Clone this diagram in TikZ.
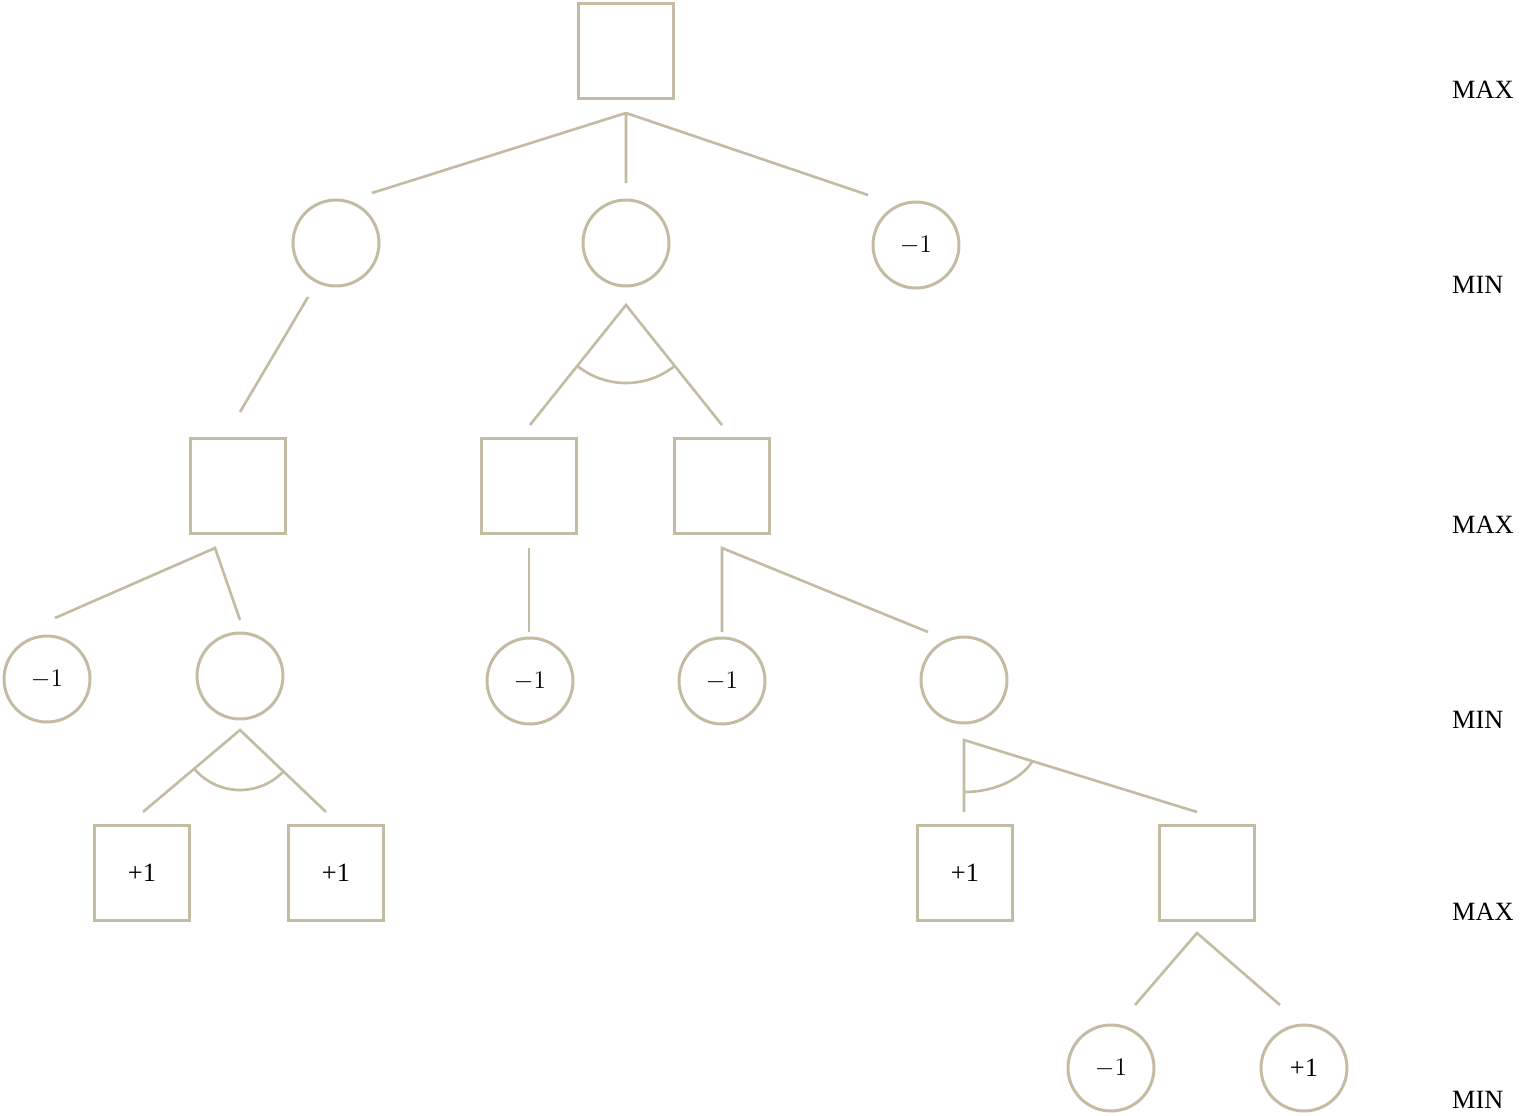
\documentclass[tikz,border=0pt]{standalone}
\usepackage{fontspec}
\setmainfont{Liberation Serif}
\definecolor{tan}{HTML}{C4BBA3}
\begin{document}
\begin{tikzpicture}[x=0.02cm,y=-0.02cm,
  every node/.style={font=\fontsize{15}{17}\selectfont},
  sq/.style={draw=tan,line width=1.7pt,minimum size=1.9cm,inner sep=0pt},
  ci/.style={draw=tan,line width=1.7pt,circle,minimum size=1.72cm,inner sep=0pt},
  ln/.style={draw=tan,line width=1.5pt},
  lab/.style={anchor=west}]
\useasboundingbox (0,0) rectangle (1522,1116);
% nodes
\node[sq] (r) at (626,51) {};
\node[ci] (a) at (336,243) {};
\node[ci] (b) at (626,243) {};
\node[ci] (c) at (916,245) {$-1$};
\node[sq] (a1) at (238,486) {};
\node[sq] (b1) at (529,486) {};
\node[sq] (b2) at (722,486) {};
\node[ci] (a11) at (47,679) {$-1$};
\node[ci] (a12) at (240,676) {};
\node[ci] (b11) at (530,681) {$-1$};
\node[ci] (b21) at (722,681) {$-1$};
\node[ci] (b22) at (964,680) {};
\node[sq] (p1) at (142,873) {+1};
\node[sq] (p2) at (336,873) {+1};
\node[sq] (q1) at (965,873) {+1};
\node[sq] (q2) at (1207,873) {};
\node[ci] (s1) at (1111,1068) {$-1$};
\node[ci] (s2) at (1304,1068) {+1};
% level labels
\node[lab] (l1) at (1446,90) {MAX};
\node[lab] (l2) at (1446,285) {MIN};
\node[lab] (l3) at (1446,525) {MAX};
\node[lab] (l4) at (1446,720) {MIN};
\node[lab] (l5) at (1446,912) {MAX};
\node[lab] (l6) at (1446,1100) {MIN};
% fork coordinates and ends
\coordinate (fr) at (626,113);
\coordinate (ra) at (372,193);
\coordinate (rb) at (626,183);
\coordinate (rc) at (868,195);
\draw[ln] (fr) -- (ra) (fr) -- (rb) (fr) -- (rc);
\coordinate (as) at (308,297);
\coordinate (ae) at (240,412);
\draw[ln] (as) -- (ae);
\coordinate (fb) at (626,305);
\coordinate (bl) at (530,425);
\coordinate (br) at (722,425);
\draw[ln] (bl) -- (fb) -- (br);
\draw[ln] (fb) ++(51.3:78) arc[start angle=51.3,end angle=128.7,radius=78];
% level 3
\coordinate (fa1) at (215,548);
\coordinate (a1l) at (55,618);
\coordinate (a1r) at (240,620);
\draw[ln] (a1l) -- (fa1) -- (a1r);
\coordinate (fb1) at (529,548);
\coordinate (b1e) at (529,632);
\draw[ln] (fb1) -- (b1e);
\coordinate (fb2) at (722,548);
\coordinate (b2l) at (722,632);
\coordinate (b2r) at (928,632);
\draw[ln] (b2l) -- (fb2) -- (b2r);
% level 4
\coordinate (fa12) at (240,730);
\coordinate (a12l) at (143,812);
\coordinate (a12r) at (326,812);
\draw[ln] (a12l) -- (fa12) -- (a12r);
\draw[ln] (fa12) ++(43.6:60) arc[start angle=43.6,end angle=139.8,radius=60];
\coordinate (fb22) at (964,740);
\coordinate (b22l) at (964,812);
\coordinate (b22r) at (1197,812);
\draw[ln] (b22l) -- (fb22) -- (b22r);
\draw[ln] (fb22) ++(0,52) arc[start angle=90,end angle=25,x radius=75,y radius=52];
% level 5
\coordinate (fq2) at (1197,933);
\coordinate (q2l) at (1135,1005);
\coordinate (q2r) at (1280,1005);
\draw[ln] (q2l) -- (fq2) -- (q2r);
\end{tikzpicture}
\end{document}
